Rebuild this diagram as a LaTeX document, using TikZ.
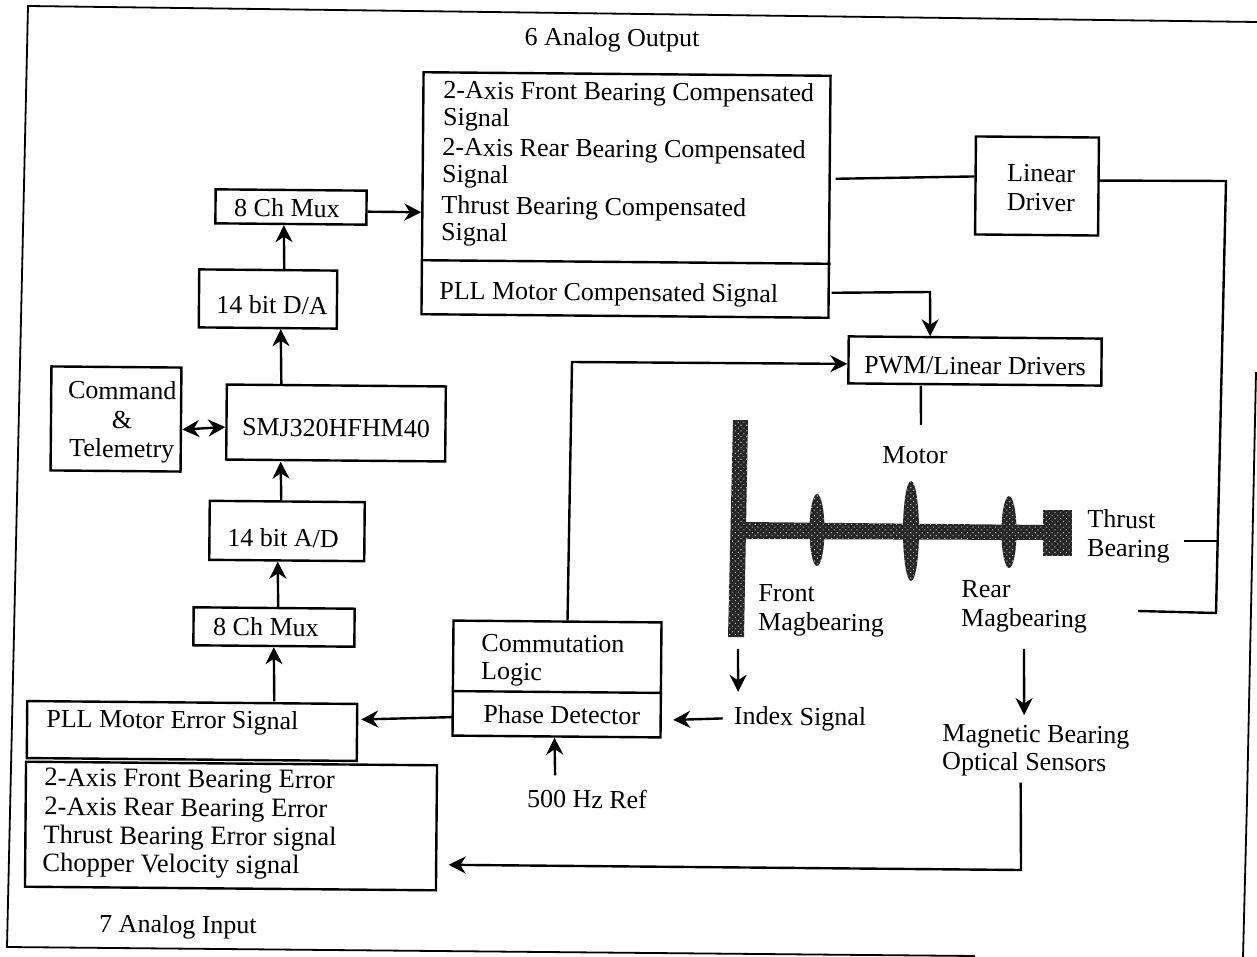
\documentclass[tikz,border=0pt]{standalone}
\usepackage{fontspec}
\setmainfont{Liberation Serif}
\usetikzlibrary{calc}
\usetikzlibrary{arrows.meta}
\usetikzlibrary{patterns.meta}
\tikzset{
  every node/.style={rotate=-0.5,inner sep=0pt,font=\fontsize{13}{13.5}\selectfont},
  box/.style 2 args={draw,line width=1.2pt,minimum width=#1*\u,minimum height=#2*\u},
  txt/.style={align=left,anchor=west},
  aitxt/.style={txt,font=\fontsize{13.3}{14}\selectfont},
  wire/.style={line width=1.2pt},
  arr/.style={line width=1.2pt,-{Stealth[length=8.5pt,width=8.5pt]}},
  rotor/.style={preaction={fill=black!85},pattern={Dots[distance=2pt,radius=0.4pt,angle=45]},pattern color=black!30},
}
\begin{document}
\begin{tikzpicture}
\def\u{0.5pt}
\useasboundingbox (0,0) rectangle (1257*\u,-957*\u);

% outer frame
\coordinate (f1) at (28*\u,-6*\u);
\coordinate (f2) at (1257*\u,-22*\u);
\coordinate (f3) at (1256*\u,-372*\u);
\coordinate (f4) at (1247*\u,-800*\u);
\coordinate (f5) at (1243*\u,-957*\u);
\coordinate (f6) at (7*\u,-947*\u);
\coordinate (f7) at (975*\u,-956*\u);
\draw[line width=0.9pt] (f7) -- (f6) -- (f1) -- (f2);
\draw[line width=0.9pt] (f3) -- (f4) -- (f5);

\node (aolbl) at (612*\u,-40*\u) {6 Analog Output};
\node (ailbl) at (178*\u,-927*\u) {7 Analog Input};

% upper left chain
\node[box={151}{34}] (muxa) at (291*\u,-207*\u) {};
\node (muxatxt) at ($(muxa)+(-4*\u,-1*\u)$) {8 Ch Mux};
\node[box={138}{58}] (da) at (268*\u,-299*\u) {};
\node (datxt) at ($(da)+(4*\u,-6*\u)$) {14 bit D/A};
\node[box={130}{104}] (cmd) at (116*\u,-419*\u) {};
\node[align=center] (cmdtxt) at ($(cmd)+(6*\u,-3*\u)$) {Command\\[1pt]\&\\[1pt]Telemetry};
\node[box={219}{75}] (smj) at (336*\u,-423*\u) {};
\node (smjtxt) at ($(smj)+(0,-5*\u)$) {SMJ320HFHM40};
\node[box={155}{59}] (ad) at (287*\u,-531*\u) {};
\node (adtxt) at ($(ad)+(-4*\u,-7*\u)$) {14 bit A/D};
\node[box={161}{38}] (muxb) at (274*\u,-627*\u) {};
\node (muxbtxt) at ($(muxb)+(-8*\u,0)$) {8 Ch Mux};

% analog output block
\node[box={407}{242}] (ao) at (626*\u,-195*\u) {};
\coordinate (aodl) at ($(ao.west)+(0,-67*\u)$);
\coordinate (aodr) at ($(ao.east)+(0,-67*\u)$);
\draw[wire] (aodl) -- (aodr);
\node[txt] (aoa) at (443*\u,-106*\u) {2-Axis Front Bearing Compensated\\Signal};
\node[txt] (aob) at (442*\u,-163*\u) {2-Axis Rear Bearing Compensated\\Signal};
\node[txt] (aoc) at (441*\u,-221*\u) {Thrust Bearing Compensated\\Signal};
\node[txt] (aod) at (439*\u,-293*\u) {PLL Motor Compensated Signal};

% drivers
\node[box={123}{98}] (lin) at (1037*\u,-186*\u) {};
\node[align=center] (lintxt) at ($(lin)+(4*\u,-2*\u)$) {Linear\\[1pt]Driver};
\node[box={253}{47}] (pwm) at (975*\u,-361*\u) {};
\node (pwmtxt) at ($(pwm)+(0,-5*\u)$) {PWM/Linear Drivers};

% analog input blocks
\node[box={330}{57}] (pll) at (192*\u,-731*\u) {};
\node[txt] (plltxt) at (46*\u,-721*\u) {PLL Motor Error Signal};
\node[box={411}{125}] (ai) at (231*\u,-826*\u) {};
\node[aitxt] (aia) at (44*\u,-780*\u) {2-Axis Front Bearing Error};
\node[aitxt] (aib) at (44*\u,-809*\u) {2-Axis Rear Bearing Error};
\node[aitxt] (aic) at (43*\u,-837*\u) {Thrust Bearing Error signal};
\node[aitxt] (aid) at (42*\u,-865*\u) {Chopper Velocity signal};

% commutation block
\node[box={208}{115}] (com) at (557*\u,-679*\u) {};
\coordinate (comdl) at ($(com.west)+(0,-13*\u)$);
\coordinate (comdr) at ($(com.east)+(0,-13*\u)$);
\draw[wire] (comdl) -- (comdr);
\node[txt] (comtxt) at (481*\u,-660*\u) {Commutation\\[0.5pt]Logic};
\node[txt] (pd) at (483*\u,-714*\u) {Phase Detector};
\node (ref) at (587*\u,-799*\u) {500 Hz Ref};
\node (idx) at (800*\u,-719*\u) {Index Signal};

% rotor
\fill[rotor] (733*\u,-420*\u) -- (748*\u,-420*\u) -- (744*\u,-637*\u) -- (728*\u,-637*\u) -- cycle;
\fill[rotor] (744*\u,-522*\u) -- (1045*\u,-525*\u) -- (1045*\u,-540*\u) -- (744*\u,-539*\u) -- cycle;
\fill[rotor] (817*\u,-530*\u) ellipse [x radius=7.5*\u,y radius=36*\u];
\fill[rotor] (911*\u,-531*\u) ellipse [x radius=8*\u,y radius=50*\u];
\fill[rotor] (1009*\u,-532*\u) ellipse [x radius=7.5*\u,y radius=36*\u];
\fill[rotor] (1043*\u,-510*\u) rectangle (1072*\u,-556*\u);

\node (motor) at (915*\u,-455*\u) {Motor};
\node[txt] (front) at (758*\u,-610*\u) {Front\\[1pt]Magbearing};
\node[txt] (rear) at (961*\u,-606*\u) {Rear\\[1pt]Magbearing};
\node[txt] (thrust) at (1087*\u,-536*\u) {Thrust\\[1pt]Bearing};
\node[txt] (sens) at (942*\u,-750*\u) {Magnetic Bearing\\[0.5pt]Optical Sensors};

% connectors
\coordinate (lina) at (1226*\u,-181*\u);
\coordinate (linb) at (1216*\u,-613*\u);
\coordinate (linc) at (1138*\u,-611*\u);
\coordinate (tha) at (1184*\u,-541*\u);
\coordinate (thb) at (1218*\u,-541*\u);
\coordinate (plla) at (930*\u,-292*\u);
\coordinate (comt) at (572*\u,-362*\u);
\coordinate (pwmb) at (921*\u,-425*\u);
\coordinate (ssb) at (1021*\u,-870*\u);

\draw[arr] ($(muxa.east)+(0,-4*\u)$) -- ($(ao.west)+(0,-19*\u)$);
\draw[arr] ($(da.north)+(16*\u,0)$) -- ($(muxa.south)+(-7*\u,0)$);
\draw[arr] ($(smj.north)+(-55*\u,0)$) -- ($(da.south)+(13*\u,0)$);
\draw[line width=1.2pt,{Stealth[length=8.5pt,width=8.5pt]}-{Stealth[length=8.5pt,width=8.5pt]}] ($(cmd.east)+(0,-10*\u)$) -- ($(smj.west)+(0,-5*\u)$);
\draw[arr] ($(ad.north)+(-6*\u,0)$) -- ($(smj.south)+(-55*\u,0)$);
\draw[arr] ($(muxb.north)+(4*\u,0)$) -- ($(ad.south)+(-9*\u,0)$);
\draw[arr] ($(pll.north)+(82*\u,0)$) -- (muxb.south);
\draw[arr] ($(com.west)+(2*\u,-39*\u)$) -- ($(pll.east)+(3*\u,13*\u)$);
\draw[arr] ($(idx.west)+(-11*\u,0)$) -- ($(com.east)+(11*\u,-40*\u)$);
\draw[arr] ($(ref.north)+(-32*\u,14*\u)$) -- ($(com.south)+(-2*\u,0)$);
\draw[arr] ($(front.south)+(-83*\u,-12*\u)$) -- ($(idx.north)+(-62*\u,15*\u)$);
\draw[arr] ($(rear.south)+(0,-16*\u)$) -- ($(sens.north)+(-12*\u,10*\u)$);
\draw[arr] ($(sens.south)+(-15*\u,-6*\u)$) -- (ssb) -- ($(ai.east)+(11*\u,-37*\u)$);
\draw[wire] ($(ao.east)+(5*\u,18*\u)$) -- ($(lin.west)+(0,9*\u)$);
\draw[wire] ($(lin.east)+(0,6*\u)$) -- (lina) -- (linb) -- (linc);
\draw[wire] (tha) -- (thb);
\draw[arr] ($(ao.east)+(1*\u,-96*\u)$) -- (plla) -- ($(pwm.north)+(-45*\u,0)$);
\draw[arr] ($(com.north)+(10*\u,0)$) -- (comt) -- ($(pwm.west)+(0,-4*\u)$);
\draw[wire] ($(pwm.south)+(-54*\u,0)$) -- (pwmb);
\end{tikzpicture}
\end{document}
